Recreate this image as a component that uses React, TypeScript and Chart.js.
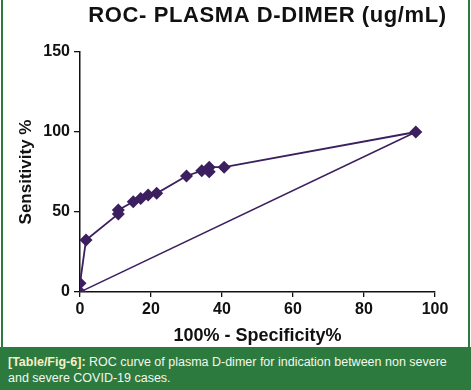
import React, { useEffect, useRef } from "react";
import { Chart, registerables } from "chart.js";

Chart.register(...registerables);

const TITLE = "ROC- PLASMA D-DIMER (ug/mL)";
const X_TITLE = "100% - Specificity%";
const Y_TITLE = "Sensitivity %";
const CAPTION_LABEL = "[Table/Fig-6]:";
const CAPTION_TEXT = " ROC curve of plasma D-dimer for indication between non severe and severe COVID-19 cases.";

const specificityPct = [0, 0, 1.7, 10.8, 10.8, 15, 17.1, 19.2, 21.6, 30, 34.3, 36.4, 36.4, 40.6, 94.6];
const sensitivityPct = [0, 5.4, 32.5, 48.8, 51.2, 56.4, 58.5, 60.6, 61.7, 72.5, 75.8, 75.2, 78, 78, 100];
const refX = [0, 94.6];
const refY = [0, 100];

const X_MIN = 0, X_MAX = 100, X_STEP = 20;
const Y_MIN = 0, Y_MAX = 150, Y_STEP = 50;

const PURPLE = "#3b1f5e";
const GREEN = "#2c7a3d";

const titlePlugin = {
  id: "customTitle",
  afterDraw(chart: any) {
    const { ctx, chartArea } = chart;
    ctx.save();
    ctx.font = "bold 22px 'Liberation Sans', Arial, sans-serif";
    try { (ctx as any).letterSpacing = "0.6px"; } catch (e) {}
    ctx.fillStyle = "#111";
    ctx.textAlign = "center";
    ctx.textBaseline = "middle";
    ctx.fillText(TITLE, (chartArea.left + chartArea.right) / 2 + 10, 16);
    ctx.restore();
  },
};

export default function App() {
  const ref = useRef<HTMLCanvasElement | null>(null);
  useEffect(() => {
    document.body.style.margin = "0";
    const tickFont = { family: "'Liberation Sans', Arial, sans-serif", size: 16, weight: "bold" as const };
    const xTitleFont = { family: "'Liberation Sans', Arial, sans-serif", size: 18, weight: "bold" as const };
    const yTitleFont = { family: "'Liberation Sans', Arial, sans-serif", size: 17, weight: "bold" as const };
    const chart = new Chart(ref.current!, {
      type: "line",
      data: {
        datasets: [
          {
            data: specificityPct.map((x, i) => ({ x, y: sensitivityPct[i] })),
            borderColor: PURPLE,
            backgroundColor: PURPLE,
            borderWidth: 1.8,
            pointStyle: "rectRot",
            pointRadius: 6.5,
            pointBorderWidth: 0,
            pointBackgroundColor: PURPLE,
            tension: 0,
          },
          {
            data: refX.map((x, i) => ({ x, y: refY[i] })),
            borderColor: PURPLE,
            borderWidth: 1.5,
            pointRadius: 0,
            tension: 0,
          },
        ],
      },
      options: {
        animation: false,
        responsive: false,
        maintainAspectRatio: false,
        layout: { padding: { left: 16, right: 36, top: 52, bottom: 0 } },
        plugins: { legend: { display: false }, tooltip: { enabled: false }, title: { display: false } },
        scales: {
          x: {
            type: "linear",
            min: X_MIN,
            max: X_MAX,
            ticks: { stepSize: X_STEP, color: "#111", font: tickFont, padding: 3, maxRotation: 0 },
            grid: { display: true, drawOnChartArea: false, drawTicks: true, tickLength: 5, color: "#111", lineWidth: 1.3 },
            border: { display: true, color: "#111", width: 1.5 },
            title: { display: true, text: X_TITLE, color: "#111", font: xTitleFont, padding: { top: 1, bottom: 0 } },
            afterFit: (s: any) => { s.height = 55; },
          },
          y: {
            type: "linear",
            min: Y_MIN,
            max: Y_MAX,
            ticks: { stepSize: Y_STEP, color: "#111", font: tickFont, padding: 4 },
            grid: { display: true, drawOnChartArea: false, drawTicks: true, tickLength: 6, color: "#111", lineWidth: 1.3 },
            border: { display: true, color: "#111", width: 1.5 },
            title: { display: true, text: Y_TITLE, color: "#111", font: yTitleFont, padding: { top: 0, bottom: 4 } },
            afterFit: (s: any) => { s.width = 64; },
          },
        },
      },
      plugins: [titlePlugin],
    });
    return () => chart.destroy();
  }, []);

  return (
    <div style={{ position: "relative", width: 471, height: 390, background: "#fff", overflow: "hidden" }}>
      <canvas ref={ref} width={471} height={347} style={{ position: "absolute", left: 0, top: 0, width: 471, height: 347 }} />
      <div style={{ position: "absolute", left: 1, top: 0, width: 2, height: 347, background: GREEN }} />
      <div style={{ position: "absolute", left: 468, top: 0, width: 2, height: 347, background: GREEN }} />
      <div
        style={{
          position: "absolute",
          left: 0,
          top: 347,
          width: 471,
          height: 43,
          background: GREEN,
          color: "#f4f7ee",
          fontFamily: "'Liberation Sans', Arial, sans-serif",
          fontSize: 12.5,
          lineHeight: "16px",
          padding: "7px 8px 0 8px",
          boxSizing: "border-box",
        }}
      >
        <span style={{ fontWeight: "bold", color: "#f6f0c8" }}>{CAPTION_LABEL}</span>
        {CAPTION_TEXT}
      </div>
    </div>
  );
}
